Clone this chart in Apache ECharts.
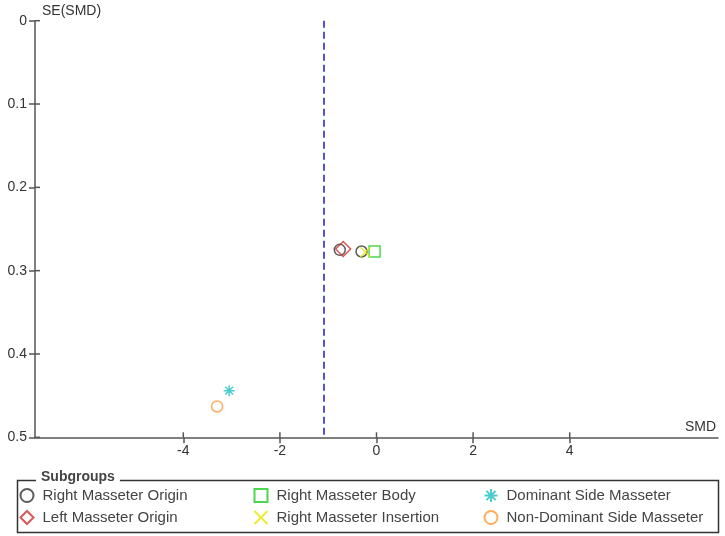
<!DOCTYPE html>
<html>
<head>
<meta charset="utf-8">
<script src="https://cdn.jsdelivr.net/npm/echarts@6/dist/echarts.min.js"></script>
<style>
html,body{margin:0;padding:0;background:#fff;}
#chart{width:725px;height:536px;}
</style>
</head>
<body>
<div id="chart"></div>
<script>
// ---- data ----
const subgroupNames = ['Right Masseter Origin', 'Left Masseter Origin', 'Right Masseter Body', 'Right Masseter Insertion', 'Dominant Side Masseter', 'Non-Dominant Side Masseter'];
const rightOriginSMD = [-0.76, -0.31];
const rightOriginSE = [0.275, 0.277];
const leftOriginSMD = [-0.69];
const leftOriginSE = [0.274];
const rightBodySMD = [-0.04];
const rightBodySE = [0.277];
const rightInsertionSMD = [-0.23];
const rightInsertionSE = [0.278];
const dominantSMD = [-3.05];
const dominantSE = [0.444];
const nonDominantSMD = [-3.30];
const nonDominantSE = [0.463];
const pooledSMD = -1.1;
const xTicks = [-4, -2, 0, 2, 4];
const yTicks = [0, 0.1, 0.2, 0.3, 0.4, 0.5];

const X_MIN = -7.07, X_MAX = 7.07, Y_MIN = 0, Y_MAX = 0.5;
const FONT = "'Liberation Sans', Arial, sans-serif";
const ASTER = 'path://M10,0 L10,20 M0,10 L20,10 M2.93,2.93 L17.07,17.07 M2.93,17.07 L17.07,2.93';
const CROSS = 'path://M0,0 L20,20 M0,20 L20,0';
const AXIS_COLOR = '#555';

function pts(xs, ys) { return xs.map((x, i) => [x, ys[i]]); }

const seriesDefs = [
  { name: subgroupNames[0], data: pts(rightOriginSMD, rightOriginSE), symbol: 'circle', size: 11, color: '#333333' },
  { name: subgroupNames[1], data: pts(leftOriginSMD, leftOriginSE), symbol: 'diamond', size: 15, color: '#d03030' },
  { name: subgroupNames[2], data: pts(rightBodySMD, rightBodySE), symbol: 'rect', size: 11, color: '#22cc22' },
  { name: subgroupNames[3], data: pts(rightInsertionSMD, rightInsertionSE), symbol: CROSS, size: 10, color: '#e6e600' },
  { name: subgroupNames[4], data: pts(dominantSMD, dominantSE), symbol: ASTER, size: 11, color: '#1fbfbf' },
  { name: subgroupNames[5], data: pts(nonDominantSMD, nonDominantSE), symbol: 'circle', size: 11, color: '#ff9933' }
];

const series = seriesDefs.map((d, i) => ({
  type: 'scatter',
  name: d.name,
  data: d.data,
  symbol: d.symbol,
  symbolSize: d.size,
  itemStyle: { color: 'rgba(255,255,255,0)', borderColor: d.color, borderWidth: 1.5 },
  emphasis: { disabled: true },
  z: 5
}));
series[0].markLine = {
  silent: true,
  symbol: 'none',
  label: { show: false },
  emphasis: { disabled: true },
  lineStyle: { color: '#1c1cc4', type: [7, 4], width: 1.5, opacity: 1 },
  data: [{ xAxis: pooledSMD }]
};

// inner halves of the crossing tick marks, placed through the axis scales
series.push({
  type: 'custom', name: '_xticks', silent: true, clip: false, z: 3,
  data: xTicks.map(v => [v, Y_MAX]),
  renderItem: function (params, api) {
    const p = api.coord([api.value(0), api.value(1)]);
    return { type: 'line', shape: { x1: p[0], y1: p[1], x2: p[0], y2: p[1] - 5 }, style: { stroke: AXIS_COLOR, lineWidth: 1.5 } };
  }
});
series.push({
  type: 'custom', name: '_yticks', silent: true, clip: false, z: 3,
  data: yTicks.map(v => [X_MIN, v]),
  renderItem: function (params, api) {
    const p = api.coord([api.value(0), api.value(1)]);
    return { type: 'line', shape: { x1: p[0], y1: p[1], x2: p[0] + 5, y2: p[1] }, style: { stroke: AXIS_COLOR, lineWidth: 1.5 } };
  }
});

const legendBase = {
  orient: 'vertical',
  top: 488,
  padding: 0,
  itemWidth: 13,
  itemHeight: 13,
  itemGap: 7,
  selectedMode: false,
  textStyle: { fontFamily: FONT, fontSize: 15, color: '#444', padding: [0, 0, 0, 4] }
};

const axisLineStyle = { color: AXIS_COLOR, width: 1.5 };

const option = {
  animation: false,
  backgroundColor: '#fff',
  textStyle: { fontFamily: FONT },
  grid: { left: 35, right: 7, top: 20.7, bottom: 98.7, containLabel: false },
  xAxis: {
    type: 'value', min: X_MIN, max: X_MAX, position: 'bottom',
    name: 'SMD', nameLocation: 'end', nameGap: -2,
    nameTextStyle: { fontFamily: FONT, fontSize: 14, color: '#333', align: 'right', verticalAlign: 'bottom', padding: [0, 0, 3, 0] },
    axisLine: { show: true, onZero: false, lineStyle: axisLineStyle },
    axisTick: { show: true, length: 6, customValues: xTicks, lineStyle: axisLineStyle },
    axisLabel: { customValues: xTicks, fontFamily: FONT, fontSize: 14, color: '#333', margin: 7 },
    splitLine: { show: false }
  },
  yAxis: {
    type: 'value', min: Y_MIN, max: Y_MAX, interval: 0.1, inverse: true, position: 'left',
    name: 'SE(SMD)', nameLocation: 'start', nameGap: 2,
    nameTextStyle: { fontFamily: FONT, fontSize: 14, color: '#333', align: 'left', verticalAlign: 'bottom', padding: [0, 0, 1, 7] },
    axisLine: { show: true, onZero: false, lineStyle: axisLineStyle },
    axisTick: { show: true, length: 6, customValues: yTicks, lineStyle: axisLineStyle },
    axisLabel: { customValues: yTicks, fontFamily: FONT, fontSize: 14, color: '#333', margin: 8 },
    splitLine: { show: false }
  },
  legend: [
    Object.assign({}, legendBase, { left: 19.5, data: [subgroupNames[0], subgroupNames[1]] }),
    Object.assign({}, legendBase, { left: 253.5, data: [subgroupNames[2], subgroupNames[3]] }),
    Object.assign({}, legendBase, { left: 483.5, data: [subgroupNames[4], subgroupNames[5]] })
  ],
  graphic: [
    {
      type: 'rect', left: 15, top: 478,
      shape: { width: 701, height: 52 },
      style: { fill: 'none', stroke: '#333', lineWidth: 1.5 },
      z: 1
    },
    {
      type: 'text', left: 36, top: 469,
      style: { text: 'Subgroups', font: "bold 14px 'Liberation Sans', Arial, sans-serif", fill: '#444', backgroundColor: '#fff', padding: [1, 5, 1, 5] },
      z: 2
    }
  ],
  series: series
};

const chart = echarts.init(document.getElementById('chart'), null, { renderer: 'canvas' });
chart.setOption(option);
</script>
</body>
</html>
